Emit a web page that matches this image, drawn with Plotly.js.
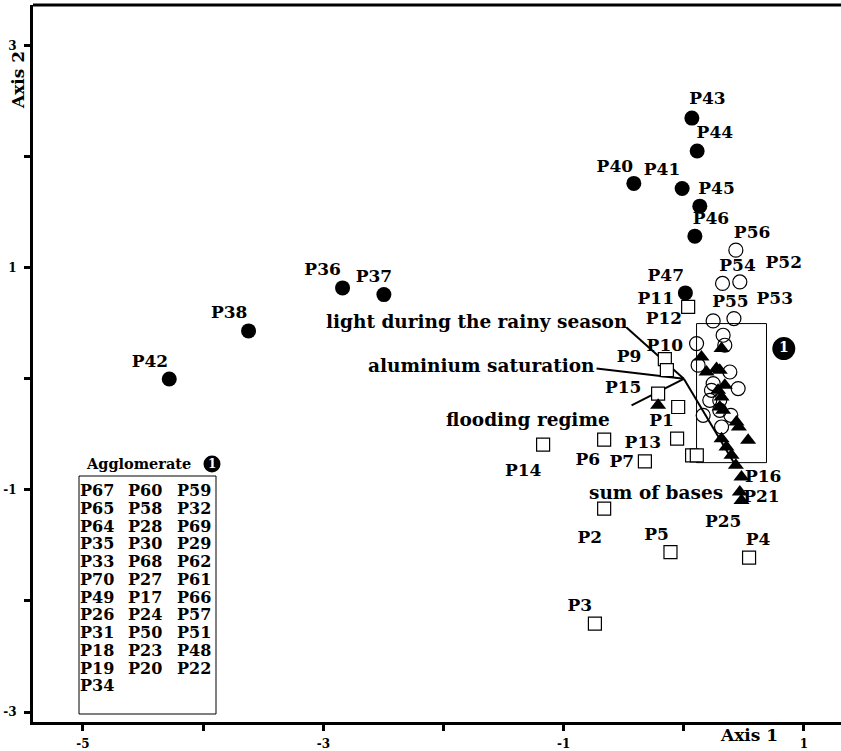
<!DOCTYPE html>
<html>
<head>
<meta charset="utf-8">
<script src="https://cdn.plot.ly/plotly-3.0.1.min.js"></script>
<style>html,body{margin:0;padding:0;background:#fff;}#chart{width:841px;height:751px;}</style>
</head>
<body>
<div id="chart"></div>
<script>
// ---------- data ----------
// Group "filled circle"
const filledX = [0.067, 0.111, -0.416, -0.014, 0.133, 0.092, 0.013, -2.840, -2.496, -3.622, -4.282];
const filledY = [2.347, 2.050, 1.759, 1.713, 1.554, 1.284, 0.773, 0.818, 0.758, 0.431, -0.002];
// Group "open circle"
const openX = [0.433, 0.322, 0.466, 0.244, 0.417, 0.327, 0.341, 0.106, 0.119, 0.383, 0.452, 0.230, 0.216, 0.299, 0.391, 0.161, 0.314, 0.244, 0.299];
const openY = [1.158, 0.858, 0.872, 0.521, 0.542, 0.392, 0.302, 0.317, 0.122, 0.061, -0.088, -0.104, -0.194, -0.194, -0.329, -0.329, -0.434, -0.043, -0.284];
// Group "triangle"
const triX = [0.147, 0.314, 0.189, 0.272, 0.299, 0.341, 0.285, 0.314, 0.299, 0.327, 0.438, 0.458, 0.535, 0.314, 0.355, 0.397, 0.433, 0.480, 0.466, 0.480, -0.214];
const triY = [0.196, 0.272, 0.061, 0.092, 0.077, -0.059, -0.104, -0.164, -0.254, -0.284, -0.389, -0.434, -0.554, -0.539, -0.614, -0.689, -0.779, -0.885, -1.020, -1.095, -0.239];
// Group "open square"
const sqX = [0.036, -0.158, -0.141, -0.214, -0.047, -0.056, 0.069, 0.108, -0.324, -0.663, -0.663, -0.111, 0.543, -1.171, -0.740];
const sqY = [0.647, 0.176, 0.077, -0.133, -0.254, -0.539, -0.689, -0.689, -0.743, -0.548, -1.169, -1.560, -1.611, -0.593, -2.205];

// Point labels
const ptLabels = ["P43","P44","P40","P41","P45","P46","P56","P54","P52","P47","P11","P55","P53","P12","P10","P9","P15","P1","P13","P6","P7","P14","P16","P21","P25","P2","P5","P4","P3","P36","P37","P38","P42"];
const ptLabelX = [0.197,0.258,-0.574,-0.181,0.272,0.225,0.568,0.447,0.832,-0.150,-0.233,0.388,0.757,-0.166,-0.158,-0.455,-0.505,-0.186,-0.341,-0.799,-0.516,-1.337,0.660,0.646,0.327,-0.782,-0.227,0.618,-0.865,-3.006,-2.579,-3.783,-4.443];
const ptLabelY = [2.509,2.203,1.903,1.872,1.705,1.434,1.308,1.007,1.038,0.917,0.707,0.683,0.707,0.527,0.287,0.191,-0.088,-0.389,-0.581,-0.734,-0.752,-0.840,-0.889,-1.069,-1.299,-1.440,-1.410,-1.455,-2.050,0.977,0.912,0.587,0.142];

// Environmental variables (vectors from the origin)
const varNames = ["light during the rainy season", "aluminium saturation", "flooding regime", "sum of bases"];
const varEndX = [-0.477, -0.726, -0.435, 0.438];
const varEndY = [0.461, 0.092, -0.239, -0.795];
const varLabelX = [-0.449, -0.724, -0.599, -0.233];
const varLabelY = [0.512, 0.122, -0.365, -1.023];
const varLabelAnchor = ["right", "right", "right", "center"];

// Cluster "1" marker and enclosing box
const clusterKeyX = [0.832];
const clusterKeyY = [0.272];
const clusterBoxX = [0.106, 0.688];
const clusterBoxY = [-0.755, 0.497];

// Agglomerate list (three columns)
const aggCol1 = ["P67","P65","P64","P35","P33","P70","P49","P26","P31","P18","P19","P34"];
const aggCol2 = ["P60","P58","P28","P30","P68","P27","P17","P24","P50","P23","P20"];
const aggCol3 = ["P59","P32","P69","P29","P62","P61","P66","P57","P51","P48","P22"];

// Axis ticks
const xTickVals = [-5,-4,-3,-2,-1,0,1];
const xTickText = ["-5","","-3","","-1","","1"];
const yTickVals = [-3,-2,-1,0,1,2,3];
const yTickText = ["-3","","-1","","1","","3"];

// ---------- figure ----------
const FONT = "DejaVu Serif";
const L = 33, T = 5, PW = 808, PH = 717;
const px = v => (v - L) / PW;
const py = v => (T + PH - v) / PH;

const traces = [];
varNames.forEach((n, i) => {
  traces.push({x: [0, varEndX[i]], y: [0, varEndY[i]], mode: "lines", type: "scatter",
    line: {color: "black", width: 2}, hoverinfo: "skip", showlegend: false, cliponaxis: false});
});
traces.push({x: openX, y: openY, mode: "markers", type: "scatter", showlegend: false,
  marker: {symbol: "circle-open", size: 14, color: "black", line: {width: 1.2, color: "black"}}});
traces.push({x: sqX, y: sqY, mode: "markers", type: "scatter", showlegend: false,
  marker: {symbol: "square", size: 13, color: "white", line: {width: 1.2, color: "black"}}});
traces.push({x: triX, y: triY, mode: "markers", type: "scatter", showlegend: false,
  marker: {symbol: "triangle-up", size: 14, color: "black", line: {width: 0}}});
traces.push({x: filledX, y: filledY, mode: "markers", type: "scatter", showlegend: false,
  marker: {symbol: "circle", size: 15, color: "black", line: {width: 0}}});
traces.push({x: ptLabelX, y: ptLabelY, text: ptLabels, mode: "text", type: "scatter", showlegend: false,
  textposition: "middle center", cliponaxis: false,
  textfont: {family: FONT, size: 17, weight: "bold", color: "black"}});
traces.push({x: clusterKeyX, y: clusterKeyY, text: ["1"], mode: "markers+text", type: "scatter", showlegend: false,
  textposition: "middle center", cliponaxis: false,
  marker: {symbol: "circle", size: 23, color: "black"},
  textfont: {family: FONT, size: 14, weight: "bold", color: "white"}});

const annotations = [];
varNames.forEach((n, i) => {
  annotations.push({x: varLabelX[i], y: varLabelY[i], xref: "x", yref: "y", text: n, showarrow: false,
    xanchor: varLabelAnchor[i], yanchor: "middle",
    font: {family: FONT, size: 18.5, weight: "bold", color: "black"}});
});
// axis titles
annotations.push({x: px(749), y: py(735), xref: "paper", yref: "paper", text: "Axis 1", showarrow: false,
  xanchor: "center", yanchor: "middle", font: {family: FONT, size: 17, weight: "bold", color: "black"}});
annotations.push({x: px(18), y: py(80), xref: "paper", yref: "paper", text: "Axis 2", showarrow: false, textangle: -90,
  xanchor: "center", yanchor: "middle", font: {family: FONT, size: 17, weight: "bold", color: "black"}});
// Agglomerate legend
annotations.push({x: px(193), y: py(463), xref: "paper", yref: "paper", text: "Agglomerate", showarrow: false,
  xanchor: "right", yanchor: "middle", font: {family: FONT, size: 14.5, weight: "bold", color: "black"}});
annotations.push({x: px(212), y: py(464), xref: "paper", yref: "paper", text: "1", showarrow: false,
  xanchor: "center", yanchor: "middle", borderpad: 0,
  font: {family: FONT, size: 12, weight: "bold", color: "white"}});
[aggCol1, aggCol2, aggCol3].forEach((col, c) => {
  const left = [79, 127, 176][c];
  col.forEach((t, i) => {
    annotations.push({x: px(left), y: py(490.7 + i * 17.75), xref: "paper", yref: "paper", text: t, showarrow: false,
      xanchor: "left", yanchor: "middle", borderpad: 0,
      font: {family: FONT, size: 16, weight: "bold", color: "black"}});
  });
});

const shapes = [
  {type: "rect", xref: "x", yref: "y", x0: clusterBoxX[0], x1: clusterBoxX[1], y0: clusterBoxY[0], y1: clusterBoxY[1],
   line: {color: "black", width: 1}, layer: "below"},
  {type: "rect", xref: "paper", yref: "paper", x0: px(79), x1: px(216), y0: py(714), y1: py(476),
   line: {color: "black", width: 1}},
  {type: "line", xref: "paper", yref: "paper", x0: 0, x1: 1, y0: 1, y1: 1, line: {color: "black", width: 3}},
  {type: "circle", xref: "paper", yref: "paper", x0: px(203.5), x1: px(220.5), y0: py(472.5), y1: py(455.5),
   fillcolor: "black", line: {color: "black", width: 0}, layer: "below"}
];

const tickFont = {family: FONT, size: 12, weight: "bold", color: "black"};
const layout = {
  width: 841, height: 751,
  margin: {l: L, r: 0, t: T, b: 751 - T - PH, pad: 0},
  paper_bgcolor: "white", plot_bgcolor: "white",
  showlegend: false,
  xaxis: {range: [-5.416, 1.308], tickvals: xTickVals, ticktext: xTickText, ticks: "outside",
    ticklen: 6, tickwidth: 3, tickcolor: "black", showline: true, linewidth: 3, linecolor: "black",
    showgrid: false, zeroline: false, tickfont: tickFont, ticklabelstandoff: 3},
  yaxis: {range: [-3.09, 3.365], tickvals: yTickVals, ticktext: yTickText, ticks: "outside",
    ticklen: 6, tickwidth: 3, tickcolor: "black", showline: true, linewidth: 3, linecolor: "black",
    showgrid: false, zeroline: false, tickfont: tickFont, ticklabelstandoff: 5},
  annotations: annotations,
  shapes: shapes
};

Plotly.newPlot("chart", traces, layout, {displayModeBar: false, staticPlot: true});
</script>
</body>
</html>
